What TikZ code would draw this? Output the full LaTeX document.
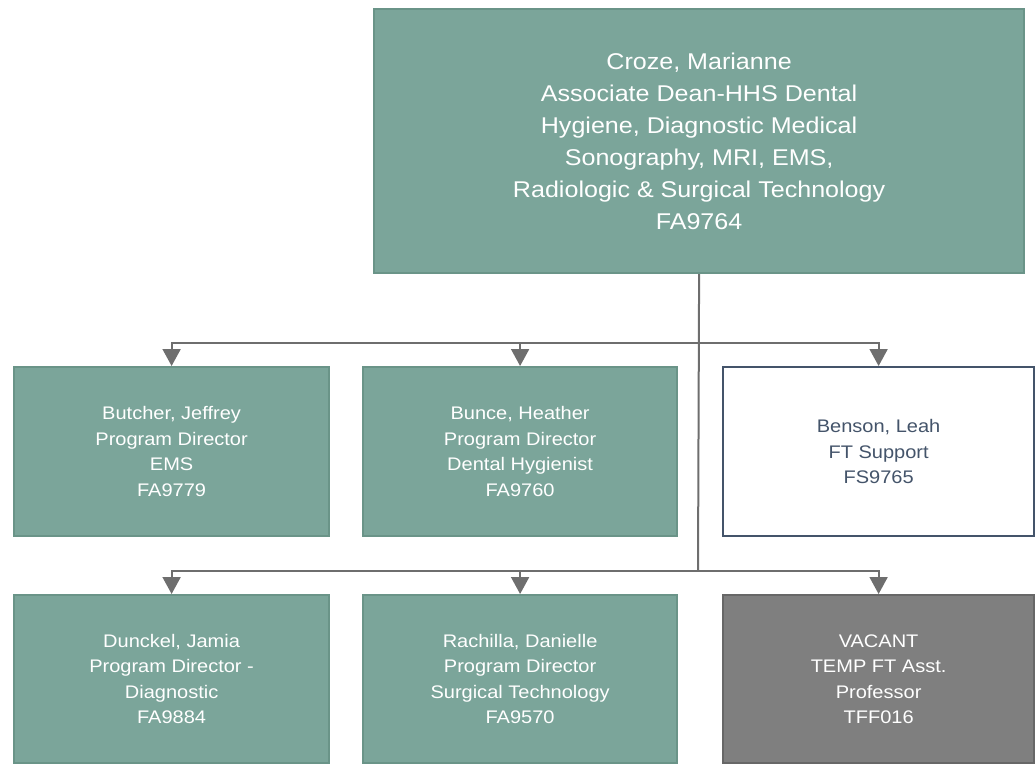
\documentclass[tikz,border=0pt]{standalone}
\usepackage{fontspec}
\setmainfont{Liberation Sans}[FakeStretch=1.1]
\usetikzlibrary{arrows.meta}
\definecolor{teal}{HTML}{7BA59A}
\definecolor{tealedge}{HTML}{6A9488}
\definecolor{vacfill}{HTML}{7F7F7F}
\definecolor{vacedge}{HTML}{676767}
\definecolor{slate}{HTML}{44546A}
\definecolor{conn}{HTML}{6E6E6E}
\begin{document}
\begin{tikzpicture}[x=1pt,y=-1pt,
  box/.style={rectangle,draw,line width=2.2pt,anchor=north west,align=center,inner sep=0pt},
  tealbox/.style={box,fill=teal,draw=tealedge,text=white},
  small/.style={font=\fontsize{18.2}{25.5}\selectfont},
  conline/.style={draw=conn,line width=2pt},
  arr/.style={conline,-{Triangle[length=17pt,width=18pt]},color=conn}
]
\useasboundingbox (0,0) rectangle (1035,764);
\node[tealbox,minimum width=650pt,minimum height=264pt,font=\fontsize{22.8}{32}\selectfont] (top) at (373,8)
  {Croze, Marianne\\Associate Dean-HHS Dental\\Hygiene, Diagnostic Medical\\Sonography, MRI, EMS,\\Radiologic \& Surgical Technology\\FA9764};
\node[tealbox,small,minimum width=315pt,minimum height=169pt] (n1) at (13,366)
  {Butcher, Jeffrey\\Program Director\\EMS\\FA9779};
\node[tealbox,small,minimum width=314pt,minimum height=169pt] (n2) at (362,366)
  {Bunce, Heather\\Program Director\\Dental Hygienist\\FA9760};
\node[box,small,fill=white,draw=slate,text=slate,minimum width=311pt,minimum height=169pt] (n3) at (722,366)
  {Benson, Leah\\FT Support\\FS9765};
\node[tealbox,small,minimum width=315pt,minimum height=168pt] (n4) at (13,594)
  {Dunckel, Jamia\\Program Director -\\Diagnostic\\FA9884};
\node[tealbox,small,minimum width=314pt,minimum height=168pt] (n5) at (362,594)
  {Rachilla, Danielle\\Program Director\\Surgical Technology\\FA9570};
\node[box,small,fill=vacfill,draw=vacedge,text=white,minimum width=311pt,minimum height=168pt] (n6) at (722,594)
  {VACANT\\TEMP FT Asst.\\Professor\\TFF016};
\coordinate (j1) at (698,343);
\coordinate (j2) at (698,571);
\draw[conline] (top.south) -- (j2);
\draw[arr] (j1) -| (n1.north);
\draw[arr] (j1) -| (n2.north);
\draw[arr] (j1) -| (n3.north);
\draw[arr] (j2) -| (n4.north);
\draw[arr] (j2) -| (n5.north);
\draw[arr] (j2) -| (n6.north);
\end{tikzpicture}
\end{document}
